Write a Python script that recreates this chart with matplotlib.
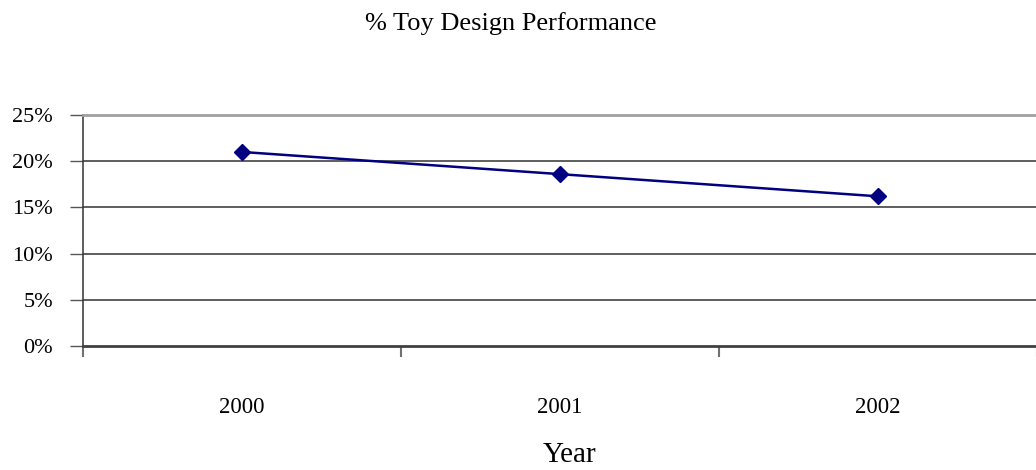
import numpy as np
import matplotlib
matplotlib.use("Agg")
import matplotlib.pyplot as plt
from matplotlib.ticker import FixedLocator, FuncFormatter

plt.rcParams['font.family'] = ['Liberation Serif', 'DejaVu Serif']

years = ['2000', '2001', '2002']
performance = [21.0, 18.6, 16.2]   # percent
y_ticks = [0, 5, 10, 15, 20, 25]

W, H = 1036, 470
fig = plt.figure(figsize=(W / 100, H / 100), dpi=100)
ax = fig.add_axes([83 / W, 124 / H, 954 / W, 231 / H])

# category axis: points sit in the middle of each slot
x = np.arange(len(years)) + 0.5
ax.plot(x, performance, color='#000080', lw=1.8, marker='D', ms=8.5,
        mec='#000080', mfc='#000080', zorder=3)

ax.set_xlim(0, len(years))
ax.set_ylim(0, 25)

# gridlines (25% line is drawn by the top spine)
for v in y_ticks[1:-1]:
    ax.axhline(v, color='#333333', lw=1.1, zorder=1)

ax.spines['top'].set_color('#a0a0a0')
ax.spines['top'].set_linewidth(2)
ax.spines['right'].set_visible(False)
ax.spines['left'].set_color('#333333')
ax.spines['left'].set_linewidth(1.1)
ax.spines['bottom'].set_color('#404040')
ax.spines['bottom'].set_linewidth(2)

ax.set_yticks(y_ticks)
ax.yaxis.set_major_formatter(FuncFormatter(lambda v, p: f'{v:.0f}%'))
ax.tick_params(axis='y', direction='out', length=9.5, width=1, color='#555555',
               pad=12, labelsize=16, labelcolor='black')

# tick marks between categories, labels at category centres
ax.xaxis.set_major_locator(FixedLocator(np.arange(len(years) + 1)))
ax.xaxis.set_minor_locator(FixedLocator(x))
ax.set_xticklabels([])
ax.set_xticklabels(years, minor=True)
ax.tick_params(axis='x', which='major', direction='out', length=8, width=1.5,
               color='#707070')
ax.tick_params(axis='x', which='minor', length=0, pad=37, labelsize=16.5)

fig.text(511 / W, 1 - 30 / H, '% Toy Design Performance', ha='center',
         va='baseline', fontsize=19)
fig.text(570 / W, 1 - 462 / H, 'Year', ha='center', va='baseline', fontsize=21)

fig.savefig('out.png', dpi=100, facecolor='white')
